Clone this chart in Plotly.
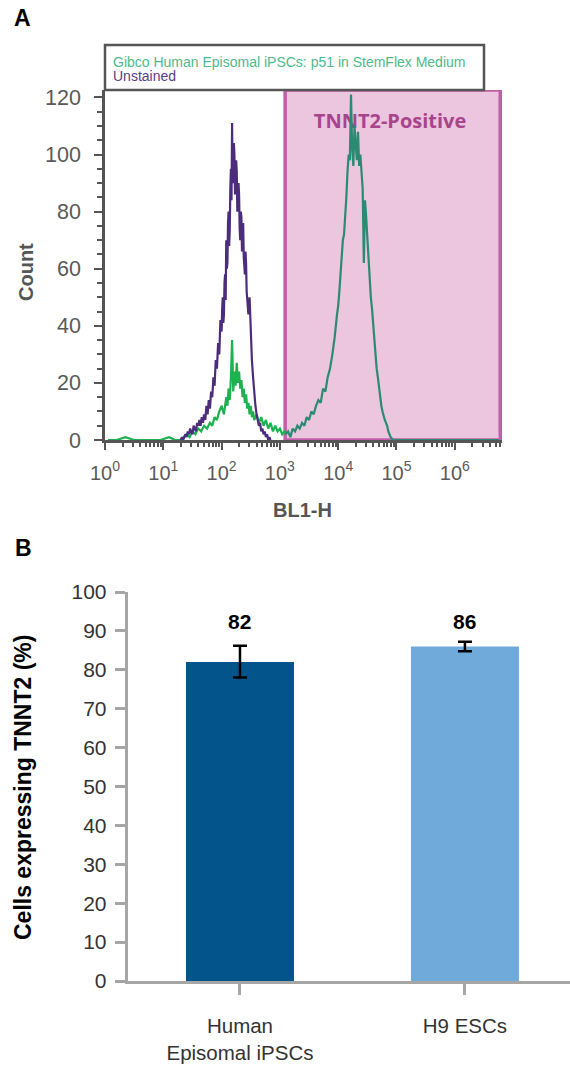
import numpy as np
import plotly.graph_objects as go

# ---------------- Panel A data (x = log10 BL1-H, y = count) ----------------
unstained_x = [1.30, 1.32, 1.34, 1.36, 1.38, 1.40, 1.42, 1.44, 1.46, 1.48, 1.50, 1.52, 1.54, 1.56, 1.58,
               1.60, 1.62, 1.64, 1.66, 1.68, 1.70, 1.72, 1.74, 1.76, 1.78, 1.80, 1.82, 1.84, 1.86, 1.88,
               1.90, 1.92, 1.94, 1.96, 1.98, 2.00, 2.01, 2.02, 2.03, 2.04, 2.05, 2.06, 2.07, 2.08, 2.09,
               2.10, 2.11, 2.12, 2.13, 2.14, 2.15, 2.16, 2.17, 2.18, 2.19, 2.20, 2.21, 2.22, 2.23, 2.24,
               2.25, 2.26, 2.27, 2.28, 2.29, 2.30, 2.31, 2.32, 2.33, 2.34, 2.35, 2.36, 2.37, 2.38, 2.39,
               2.40, 2.41, 2.42, 2.43, 2.44, 2.46, 2.48,
               2.50, 2.52, 2.54, 2.56, 2.58, 2.60, 2.62, 2.64, 2.66, 2.68, 2.70, 2.72, 2.74, 2.76, 2.78,
               2.80, 2.82, 2.84]
unstained_y = [0, 1, 0, 1, 2, 1, 3, 2, 4, 3, 2, 5, 4, 3, 6,
               5, 7, 5, 8, 6, 9, 7, 12, 9, 14, 11, 17, 15, 22, 19,
               28, 25, 34, 30, 42, 38, 46, 50, 41, 44, 55, 58, 49, 70, 60,
               62, 76, 80, 68, 74, 88, 95, 84, 111, 90, 92, 104, 100, 86, 88,
               98, 94, 80, 82, 90, 86, 74, 70, 80, 78, 66, 72, 76, 64, 58,
               58, 66, 62, 52, 48, 44, 50,
               34, 28, 22, 16, 12, 9, 7, 5, 6, 3, 4, 2, 3, 1, 2,
               0, 1, 0]

stained_low_x = [0.05, 0.20, 0.35, 0.50, 0.65, 0.80, 0.95, 1.10, 1.20, 1.30, 1.35, 1.40, 1.45, 1.50, 1.55,
                 1.60, 1.65, 1.70, 1.75, 1.80, 1.84, 1.88, 1.92, 1.96, 2.00, 2.04, 2.08, 2.10, 2.12, 2.14,
                 2.16, 2.18, 2.20, 2.22, 2.24, 2.26, 2.28, 2.30, 2.32, 2.34, 2.36, 2.38, 2.40, 2.42, 2.44,
                 2.46, 2.48, 2.50, 2.52, 2.54, 2.56, 2.60, 2.64, 2.68, 2.72, 2.76, 2.80, 2.84, 2.88, 2.92,
                 2.96, 3.00, 3.04, 3.08, 3.10]
stained_low_y = [0, 0, 1, 0, 0, 0, 0, 1, 0, 0, 1, 2, 1, 3, 2,
                 4, 3, 5, 4, 6, 5, 8, 7, 10, 12, 9, 15, 12, 18, 14,
                 22, 35, 17, 24, 19, 27, 20, 24, 18, 21, 15, 18, 13, 16, 11,
                 13, 9, 12, 8, 10, 7, 9, 6, 8, 5, 7, 4, 6, 3, 5,
                 3, 4, 2, 3, 2]

stained_high_x = [3.10, 3.14, 3.18, 3.22, 3.26, 3.30, 3.34, 3.38, 3.42, 3.46, 3.50, 3.54, 3.58, 3.62, 3.66,
                  3.70, 3.74, 3.78, 3.82, 3.86, 3.90, 3.94, 3.98, 4.00, 4.02, 4.04, 4.06, 4.08, 4.10, 4.12,
                  4.14, 4.16, 4.18, 4.20, 4.22, 4.24, 4.26, 4.28, 4.30, 4.32, 4.34, 4.36, 4.38, 4.40, 4.42,
                  4.44, 4.46, 4.48, 4.50, 4.52, 4.54, 4.56, 4.58, 4.60, 4.62, 4.64, 4.66, 4.68, 4.70, 4.72,
                  4.74, 4.76, 4.78, 4.80, 4.82, 4.84, 4.86, 4.88, 4.90, 4.94, 5.00, 5.50, 6.00, 6.50, 6.75]
stained_high_y = [2, 3, 1, 4, 3, 5, 4, 6, 5, 8, 7, 10, 9, 12, 14,
                  13, 18, 17, 22, 25, 30, 36, 44, 47, 52, 58, 64, 70, 72, 78,
                  85, 94, 100, 98, 121, 102, 96, 110, 104, 98, 108, 96, 100, 92, 88,
                  62, 84, 78, 70, 64, 56, 50, 46, 40, 34, 30, 25, 22, 18, 16,
                  12, 10, 8, 7, 6, 5, 3, 2, 1, 0, 0, 0, 0, 0, 0]

gate_x = [3.09, 6.78]
gate_label = "TNNT2-Positive"
legend_lines = ["Gibco Human Episomal iPSCs: p51 in StemFlex Medium", "Unstained"]
decades = [0, 1, 2, 3, 4, 5, 6]
decade_labels = ["10<sup>%d</sup>" % d for d in decades]

# ---------------- Panel B data ----------------
categories = ["Human<br>Episomal iPSCs", "H9 ESCs"]
values = [82, 86]
err_plus = [4.2, 1.2]
err_minus = [4.0, 1.2]
bar_colors = ["#02548a", "#6faadb"]

W, H = 570, 1067
def px(x): return x / W
def py(y): return 1 - y / H

fig = go.Figure()

fig.add_trace(go.Scatter(x=[4.89], y=[111], mode="text", text=["<b>%s</b>" % gate_label],
                         textfont=dict(family="Open Sans", size=20, color="#a8448c"),
                         xaxis="x", yaxis="y", showlegend=False, hoverinfo="skip"))
fig.add_trace(go.Scatter(x=stained_low_x, y=stained_low_y, mode="lines",
                         line=dict(color="#1db14f", width=2.2), xaxis="x", yaxis="y", showlegend=False))
fig.add_trace(go.Scatter(x=unstained_x, y=unstained_y, mode="lines",
                         line=dict(color="#4b2d7c", width=2.2), xaxis="x", yaxis="y", showlegend=False))
fig.add_trace(go.Scatter(x=stained_high_x, y=stained_high_y, mode="lines",
                         line=dict(color="#2a8a72", width=2.2), xaxis="x", yaxis="y", showlegend=False))

fig.add_trace(go.Bar(x=[0, 1], y=values, marker=dict(color=bar_colors, line=dict(width=0)), width=0.48,
                     error_y=dict(type="data", array=err_plus, arrayminus=err_minus, visible=True,
                                  color="black", thickness=2.5, width=7),
                     xaxis="x2", yaxis="y2", showlegend=False))

minor_x = [d + np.log10(k) for d in range(7) for k in range(2, 10) if d + np.log10(k) < 6.8]

shapes = [
    dict(type="rect", xref="x", yref="y", x0=gate_x[0], x1=gate_x[1], y0=0, y1=122.6,
         fillcolor="#ecc5df", line=dict(color="#c25ea9", width=3.5), layer="below"),
    dict(type="rect", xref="paper", yref="paper", x0=px(105), x1=px(484), y0=py(90), y1=py(45),
         fillcolor="white", line=dict(color="#555555", width=2.5)),
]

def ann(text, x, y, size, color, angle=0, xanchor="center"):
    return dict(text=text, x=px(x), y=py(y), xref="paper", yref="paper", xanchor=xanchor,
                yanchor="middle", textangle=angle, showarrow=False,
                font=dict(family="Liberation Sans", size=size, color=color))

annotations = [
    ann("<b>A</b>", 12, 18, 23, "black", xanchor="left"),
    ann("<b>B</b>", 13, 548, 23, "black", xanchor="left"),
    ann(legend_lines[0], 111, 62, 14, "#4dbb8b", xanchor="left"),
    ann(legend_lines[1], 111, 76, 14, "#5b3d87", xanchor="left"),
    ann("<b>Count</b>", 26, 272, 20, "#555555", angle=-90),
    ann("<b>BL1-H</b>", 302, 510, 20, "#555555"),
    ann("<b>Cells expressing TNNT2 (%)</b>", 23, 788, 23, "black", angle=-90),
]
for i, v in enumerate(values):
    annotations.append(dict(text="<b>%d</b>" % v, x=i, y=92.4, xref="x2", yref="y2", showarrow=False,
                            xanchor="center", yanchor="middle",
                            font=dict(family="Liberation Sans", size=21, color="black")))

fig.update_layout(
    width=W, height=H, margin=dict(l=0, r=0, t=0, b=0, pad=0, autoexpand=False),
    paper_bgcolor="white", plot_bgcolor="rgba(0,0,0,0)",
    shapes=shapes, annotations=annotations,
    xaxis=dict(domain=[px(105), px(502)], range=[0, 6.81], anchor="y", automargin=False,
               showgrid=False, zeroline=False, showline=True, linecolor="#555555", linewidth=2.5,
               ticks="outside", ticklen=7, tickwidth=1.8, tickcolor="#555555",
               tickmode="array", tickvals=decades, ticktext=decade_labels,
               tickfont=dict(family="Liberation Sans", size=20, color="#5a5a5a"), ticklabelstandoff=6,
               minor=dict(tickmode="array", tickvals=minor_x, ticks="outside", ticklen=4,
                          tickwidth=1.5, tickcolor="#555555")),
    yaxis=dict(domain=[py(440), py(90)], range=[0, 122.6], anchor="x", automargin=False,
               showgrid=False, zeroline=False, showline=True, linecolor="#555555", linewidth=2.5,
               ticks="outside", ticklen=8, tickwidth=1.8, tickcolor="#555555",
               tickmode="array", tickvals=[0, 20, 40, 60, 80, 100, 120],
               tickfont=dict(family="Liberation Sans", size=21.5, color="#5a5a5a"), ticklabelstandoff=9,
               minor=dict(dtick=5, ticks="outside", ticklen=5, tickwidth=1.5, tickcolor="#555555")),
    xaxis2=dict(domain=[px(127.5), 1.0], range=[-0.5, 1.467], anchor="y2", automargin=False,
                showgrid=False, zeroline=False, showline=True, linecolor="#a6a6a6", linewidth=2.5,
                tickmode="array", tickvals=[0, 1], ticktext=categories, tickson="boundaries",
                ticks="outside", ticklen=11, tickwidth=2.5, tickcolor="#a6a6a6",
                tickfont=dict(family="Liberation Sans", size=20.5, color="#333333"), ticklabelstandoff=14),
    yaxis2=dict(domain=[py(981), py(592)], range=[0, 100], anchor="x2", automargin=False,
                showgrid=False, zeroline=False, showline=True, linecolor="#a6a6a6", linewidth=2.5,
                tickmode="array", tickvals=list(range(0, 101, 10)),
                ticks="outside", ticklen=10, tickwidth=2.5, tickcolor="#a6a6a6",
                tickfont=dict(family="Liberation Sans", size=21, color="#333333"), ticklabelstandoff=4),
)

fig.write_html("out.html", config={"displayModeBar": False},
               post_script="document.body.style.margin='0px';document.body.style.padding='0px';")
